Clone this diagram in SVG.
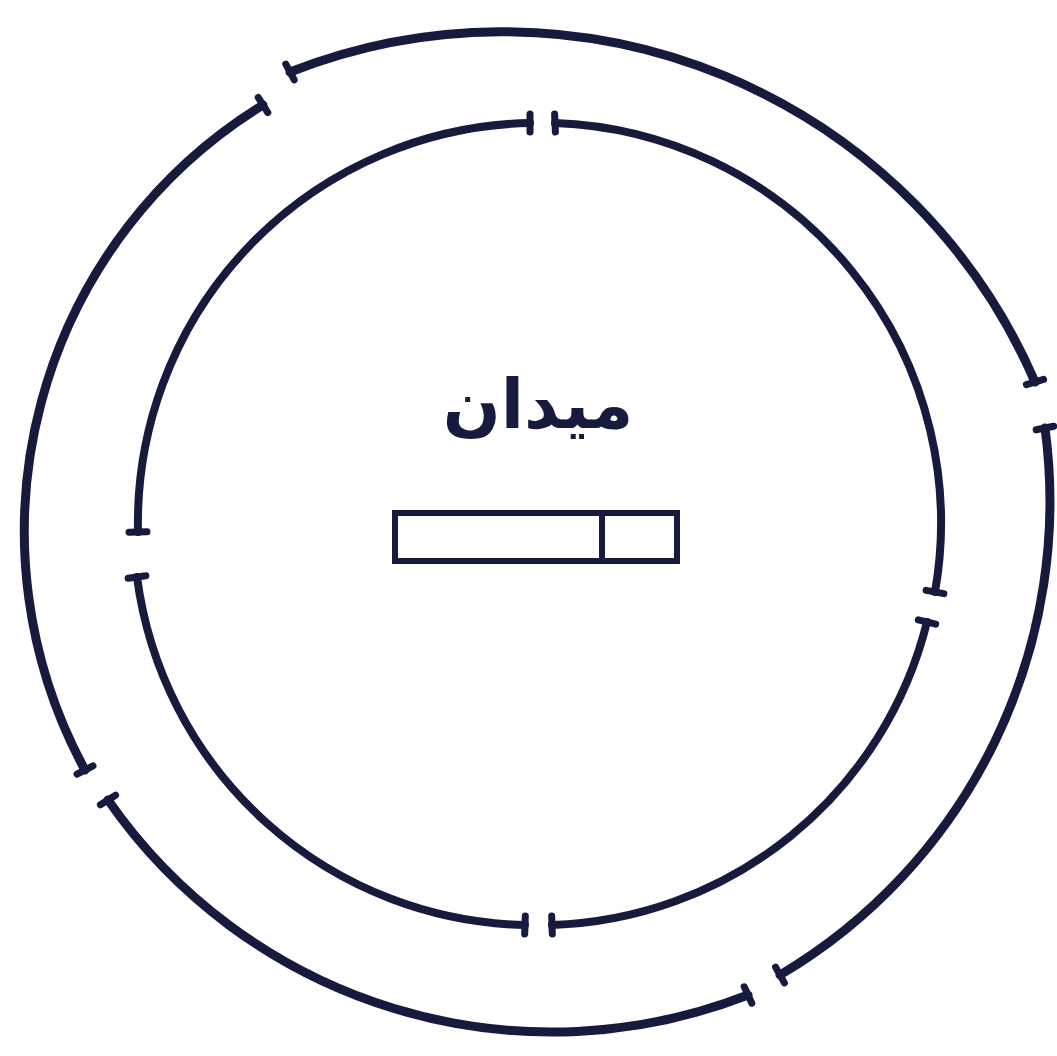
<svg xmlns="http://www.w3.org/2000/svg" width="1057" height="1056" viewBox="0 0 1057 1056">
<style>
.arc{fill:none;stroke:#161b3e;stroke-width:9;stroke-linecap:round}
.in{stroke-width:8}
.cap{stroke:#161b3e;stroke-width:7;stroke-linecap:round}
.box{fill:none;stroke:#161b3e;stroke-width:6}
.lbl{font-family:"DejaVu Sans","Noto Sans",sans-serif;font-weight:bold;fill:#161b3e;text-anchor:middle}
</style>
<rect width="1057" height="1056" fill="#ffffff"/>
<g id="outer-ring">
<path class="arc" d="M290,72 A580,580 0 0 1 1035,382"/>
<path class="arc" d="M1045,428 A550,550 0 0 1 780,975"/>
<path class="arc" d="M748,995 A540,540 0 0 1 108,800"/>
<path class="arc" d="M85,770 A500,500 0 0 1 263,105"/>
<line class="cap" x1="285.8" y1="64.1" x2="294.2" y2="79.9"/>
<line class="cap" x1="258.2" y1="97.4" x2="267.8" y2="112.6"/>
<line class="cap" x1="1026.4" y1="384.6" x2="1043.6" y2="379.4"/>
<line class="cap" x1="1036.2" y1="429.8" x2="1053.8" y2="426.2"/>
<line class="cap" x1="775.6" y1="967.1" x2="784.4" y2="982.9"/>
<line class="cap" x1="744.2" y1="986.8" x2="751.8" y2="1003.2"/>
<line class="cap" x1="93" y1="765.8" x2="77" y2="774.2"/>
<line class="cap" x1="115.6" y1="795.2" x2="100.4" y2="804.8"/>
</g>
<g id="inner-ring">
<path class="arc in" d="M555,123 A400,400 0 0 1 935,592"/>
<path class="arc in" d="M927,622 A400,400 0 0 1 552,925"/>
<path class="arc in" d="M525,925 A400,400 0 0 1 137,577"/>
<path class="arc in" d="M138,532 A400,400 0 0 1 530,123"/>
<line class="cap" x1="554.6" y1="114" x2="555.4" y2="132"/>
<line class="cap" x1="530" y1="114" x2="530" y2="132"/>
<line class="cap" x1="926.1" y1="590.4" x2="943.9" y2="593.6"/>
<line class="cap" x1="918.3" y1="619.8" x2="935.7" y2="624.2"/>
<line class="cap" x1="551.7" y1="916" x2="552.3" y2="934"/>
<line class="cap" x1="525.3" y1="916" x2="524.7" y2="934"/>
<line class="cap" x1="145.9" y1="575.8" x2="128.1" y2="578.2"/>
<line class="cap" x1="147" y1="531.8" x2="129" y2="532.2"/>
</g>
<g id="label">
<text class="lbl" x="538" y="428" font-size="68" direction="rtl">میدان</text>
</g>
<g id="bar">
<rect class="box" x="395" y="513" width="282" height="48"/>
<line class="box" x1="602" y1="513" x2="602" y2="561"/>
</g>
</svg>
